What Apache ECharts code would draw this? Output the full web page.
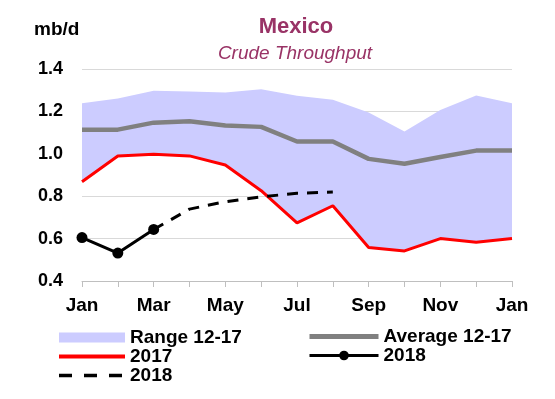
<!DOCTYPE html>
<html><head><meta charset="utf-8">
<script src="https://cdn.jsdelivr.net/npm/echarts@6/dist/echarts.min.js"></script>
<style>html,body{margin:0;padding:0;background:#fff}#c{width:555px;height:399px}</style>
</head><body><div id="c"></div>
<script>
var months = ['Jan','Feb','Mar','Apr','May','Jun','Jul','Aug','Sep','Oct','Nov','Dec','Jan'];
var rangeHigh = [1.239,1.261,1.297,1.294,1.289,1.305,1.274,1.255,1.195,1.105,1.207,1.275,1.239];
var rangeLow  = [0.868,0.990,0.998,0.990,0.947,0.826,0.674,0.755,0.558,0.542,0.600,0.583,0.600];
var avg12_17  = [1.114,1.114,1.147,1.154,1.133,1.127,1.058,1.058,0.976,0.953,0.985,1.015,1.015];
var y2017     = [0.868,0.990,0.998,0.990,0.947,0.826,0.674,0.755,0.558,0.542,0.600,0.583,0.600];
var y2018     = [0.605,0.532,0.643,null,null,null,null,null,null,null,null,null,null];
var y2018f    = [null,null,0.643,0.739,0.774,0.797,0.814,0.820,null,null,null,null,null];
var yTicks = [0.4,0.6,0.8,1.0,1.2,1.4];

var rangeDiff = rangeHigh.map(function(v,i){return +(v - rangeLow[i]).toFixed(3);});
var FONT = 'Liberation Sans, Arial, sans-serif';
var chart = echarts.init(document.getElementById('c'));
var legText = {fontFamily:FONT, fontWeight:'bold', fontSize:19, color:'#000', lineHeight:19};
var noSym = {opacity:0};
chart.setOption({
  animation:false,
  title:[
    {text:'Mexico', left:291, top:11, textAlign:'center',
     textStyle:{fontFamily:FONT, fontWeight:'bold', fontSize:22, color:'#993366'}},
    {text:'Crude Throughput', left:290, top:39, textAlign:'center',
     textStyle:{fontFamily:FONT, fontStyle:'italic', fontWeight:'normal', fontSize:19, color:'#993366'}}
  ],
  graphic:[{type:'text', left:34, top:20, style:{text:'mb/d', font:'bold 19px '+FONT, fill:'#000'}}],
  grid:{left:82, right:43, top:69, bottom:118},
  legend:[
    {orient:'vertical', left:52, top:323, itemWidth:66, itemHeight:10, itemGap:0,
     textStyle:legText,
     data:[{name:'Range 12-17', icon:'rect'},
           {name:'2017', itemStyle:noSym, lineStyle:{width:4, color:'#ff0000'}},
           {name:'2018 ', itemStyle:noSym, lineStyle:{width:3.5, color:'#000', type:[13,12]}}],
     formatter:function(n){return n.trim();}},
    {orient:'vertical', left:302, top:322, itemWidth:69, itemHeight:12, itemGap:0,
     textStyle:legText,
     data:[{name:'Average 12-17', itemStyle:noSym, lineStyle:{width:5, color:'#808080'}},
           {name:'2018', lineStyle:{width:3, color:'#000'}}]}
  ],
  xAxis:{type:'category', data:months, boundaryGap:false,
    axisLine:{lineStyle:{color:'#bfbfbf', width:1}},
    axisTick:{show:true, interval:0, length:6, lineStyle:{color:'#bfbfbf'}},
    axisLabel:{interval:1, fontFamily:FONT, fontWeight:'bold', fontSize:19, color:'#000', margin:15}},
  yAxis:{type:'value', min:0.4, max:1.4, interval:0.2,
    axisLine:{show:false}, axisTick:{show:false},
    splitLine:{lineStyle:{color:'#d9d9d9', width:1}},
    axisLabel:{fontFamily:FONT, fontWeight:'bold', fontSize:18, color:'#000', margin:19,
      formatter:function(v){return v.toFixed(1);}}},
  series:[
    {name:'base', type:'line', stack:'range', data:rangeLow, symbol:'none',
     lineStyle:{opacity:0}, silent:true},
    {name:'Range 12-17', type:'line', stack:'range', data:rangeDiff, symbol:'none',
     lineStyle:{opacity:0}, itemStyle:{color:'#ccccff'}, areaStyle:{color:'#ccccff', opacity:1}},
    {name:'Average 12-17', type:'line', data:avg12_17, symbol:'none',
     lineStyle:{color:'#808080', width:4.5}, itemStyle:{color:'#808080'}},
    {name:'2017', type:'line', data:y2017, symbol:'none',
     lineStyle:{color:'#ff0000', width:3}, itemStyle:{color:'#ff0000'}},
    {name:'2018 ', type:'line', data:y2018f, symbol:'none',
     lineStyle:{color:'#000', width:3, type:[11,9]}, itemStyle:{color:'#000'}},
    {name:'2018', type:'line', data:y2018, symbol:'circle', symbolSize:11,
     lineStyle:{color:'#000', width:3}, itemStyle:{color:'#000'}}
  ]
});
</script></body></html>
